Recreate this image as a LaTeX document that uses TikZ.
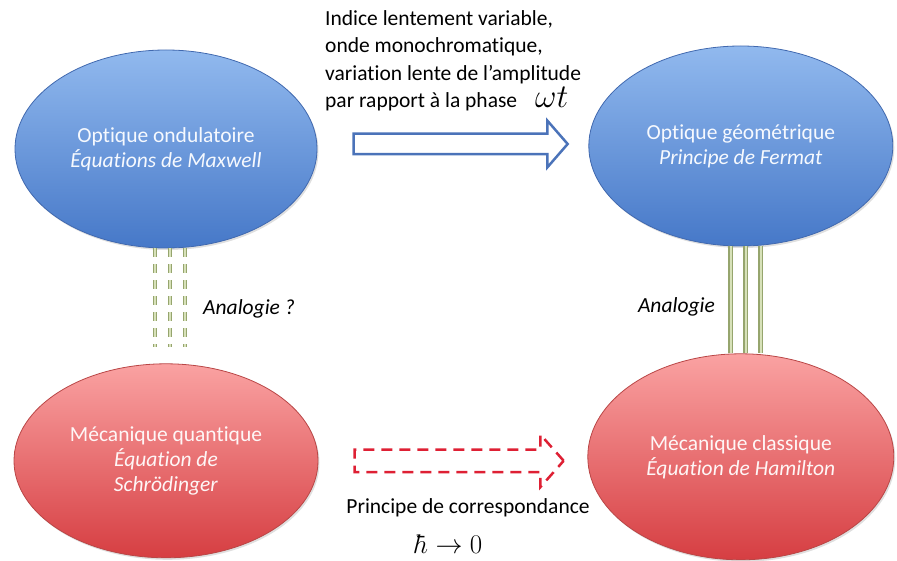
\documentclass[tikz,border=0pt]{standalone}
\usepackage{graphicx}
\usepackage{fontspec}
\setmainfont{Carlito}[Ligatures={TeX,NoCommon}]
\usetikzlibrary{positioning,shapes.geometric,shapes.arrows,shadows}
\definecolor{bluetop}{RGB}{145,185,238}
\definecolor{bluebot}{RGB}{70,120,200}
\definecolor{blueedge}{RGB}{65,105,175}
\definecolor{redtop}{RGB}{250,162,162}
\definecolor{redbot}{RGB}{214,62,66}
\definecolor{rededge}{RGB}{185,70,70}
\definecolor{arrowblue}{RGB}{75,115,185}
\definecolor{arrowred}{RGB}{222,32,52}
\definecolor{analogedge}{RGB}{150,165,110}
\definecolor{analogfill}{RGB}{215,225,185}
\newcommand{\bigmath}[2]{{\fontsize{20.74}{20.74}\selectfont\scalebox{#1}{$#2$}}}

\begin{document}
\begin{tikzpicture}[x=1pt, y=1pt,
  optic/.style={ellipse, draw=blueedge, line width=0.8pt, top color=bluetop, bottom color=bluebot, text=white!92!bluetop, align=center, font=\fontsize{21.5}{25}\selectfont, inner sep=0pt, drop shadow={opacity=0.25, shadow xshift=1.5pt, shadow yshift=-2pt}},
  meca/.style={optic, draw=rededge, top color=redtop, bottom color=redbot, text=white!90!redtop},
  txt/.style={font=\fontsize{21.5}{27.5}\selectfont, inner sep=0pt},
  bigarrow/.style={single arrow, draw=arrowblue, line width=2.5pt, fill=white, inner xsep=0pt, inner ysep=9pt, single arrow head extend=13pt, single arrow tip angle=98, minimum height=214pt, anchor=tail},
  dasharrow/.style={single arrow, draw=arrowred, line width=2.5pt, dash pattern=on 11pt off 7pt, inner xsep=0pt, inner ysep=10pt, single arrow head extend=15pt, single arrow tip angle=97, minimum height=209pt, anchor=tail},
  analog/.style={draw=analogedge, line width=1.2pt, double=analogfill, double distance=2.4pt},
  analogq/.style={analog, dash pattern=on 9pt off 7pt}
]
\useasboundingbox (0,0) rectangle (897,-561);
\node[optic, minimum width=302pt, minimum height=198pt] (wave) at (166,-149) {Optique ondulatoire\\\textit{Équations de Maxwell}};
\node[optic, minimum width=304pt, minimum height=200pt, right=271pt of wave, yshift=3pt] (geom) {Optique géométrique\\\textit{Principe de Fermat}};
\node[meca, minimum width=304pt, minimum height=194pt, below=115pt of wave] (quant) {Mécanique quantique\\\textit{Équation de}\\\textit{Schrödinger}};
\node[meca, minimum width=306pt, minimum height=206pt, below=107pt of geom] (classic) {Mécanique classique\\\textit{Équation de Hamilton}};
\node[bigarrow] (optarr) at ([xshift=35pt, yshift=5pt]wave.east) {};
\node[dasharrow] (corarr) at ([xshift=35pt]quant.east) {};
\node[txt, align=left, anchor=north west] (cond) at (325,-10) {Indice lentement variable,\\onde monochromatique,\\variation lente de l’amplitude\\par rapport à la phase\hspace{18pt}\bigmath{1.6}{\omega t}};
\node[txt, anchor=base west] (anaq) at (203,-315) {\textit{Analogie ?}};
\node[txt, anchor=base east] (ana) at (715,-313) {\textit{Analogie}};
\node[txt, anchor=base] (corr) at (468,-513) {Principe de correspondance};
\node[txt, anchor=base] (limit) at (449,-553) {\bigmath{1.3}{\hbar\rightarrow 0}};
\foreach \dx in {-11,4,19}
  \draw[analogq] ([xshift=\dx pt]wave.south) -- ([xshift=\dx pt, yshift=16pt]quant.north);
\foreach \dx in {-10,5,20}
  \draw[analog] ([xshift=\dx pt]geom.south) -- ([xshift=\dx pt]classic.north);
\end{tikzpicture}
\end{document}
